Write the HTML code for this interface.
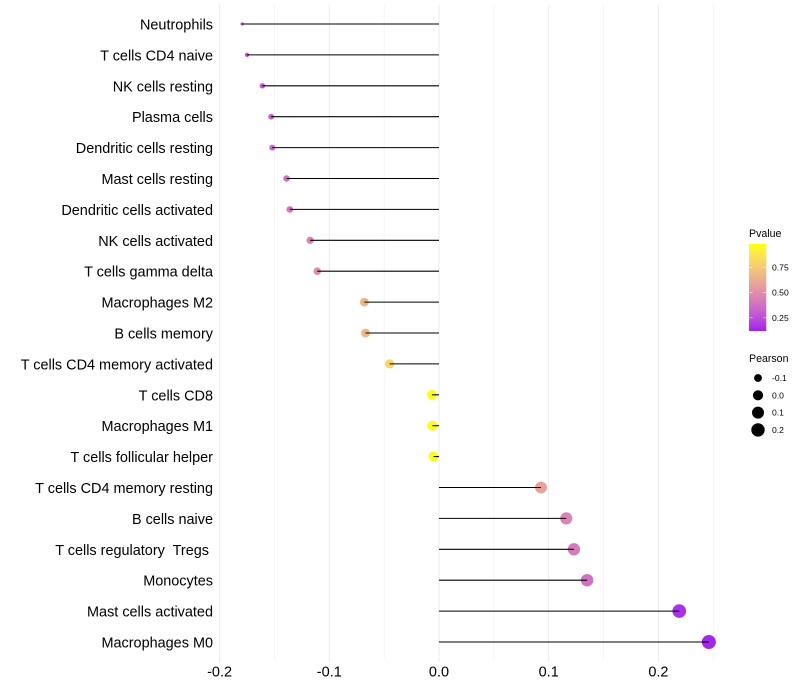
<!DOCTYPE html>
<html>
<head>
<meta charset="utf-8">
<style>
html,body{margin:0;padding:0;background:#fff;}
svg{display:block;font-family:"Liberation Sans",sans-serif;}
</style>
</head>
<body>
<svg id="chart" width="800" height="700" viewBox="0 0 800 700" xmlns="http://www.w3.org/2000/svg">
<rect x="0" y="0" width="800" height="700" fill="#ffffff"/>
<defs><linearGradient id="pgrad" x1="0" y1="1" x2="0" y2="0"></linearGradient></defs>
<g id="grid"></g>
<g id="stems"></g>
<g id="points"></g>
<g id="ylabels"></g>
<g id="xlabels"></g>
<g id="color-legend">
<text x="749" y="237" font-size="10.6" fill="#000">Pvalue</text>
<rect x="749" y="244" width="17.3" height="87" fill="url(#pgrad)"/>
</g>
<g id="size-legend">
<text x="749" y="362" font-size="10.6" fill="#000">Pearson</text>
</g>
</svg>
<script>
const categories = ["Neutrophils","T cells CD4 naive","NK cells resting","Plasma cells","Dendritic cells resting","Mast cells resting","Dendritic cells activated","NK cells activated","T cells gamma delta","Macrophages M2","B cells memory","T cells CD4 memory activated","T cells CD8","Macrophages M1","T cells follicular helper","T cells CD4 memory resting","B cells naive","T cells regulatory  Tregs ","Monocytes","Mast cells activated","Macrophages M0"];
const pearson = [-0.1795,-0.175,-0.161,-0.153,-0.152,-0.139,-0.136,-0.1175,-0.111,-0.068,-0.067,-0.045,-0.0065,-0.006,-0.005,0.093,0.116,0.123,0.135,0.219,0.246];
const pvalues = [0.24,0.26,0.29,0.33,0.33,0.38,0.40,0.45,0.49,0.66,0.67,0.80,0.97,0.97,0.97,0.58,0.45,0.42,0.38,0.16,0.13];
const xTicks = [-0.2,-0.1,0.0,0.1,0.2];
const xMinorTicks = [-0.15,-0.05,0.05,0.15,0.25];
const colorTicks = [0.25,0.50,0.75];
const sizeTicks = [-0.1,0.0,0.1,0.2];

const NS = "http://www.w3.org/2000/svg";
function x(v){ return 439 + v * 1097; }
function y(i){ return 24 + i * 30.9; }
function pY(p){ return 331 - (p - 0.12) / (0.98 - 0.12) * 87; }
function sizeR(v){
  const minV = Math.min(...pearson), maxV = Math.max(...pearson);
  const t = Math.max(0, (v - minV) / (maxV - minV));
  return 1.6 + 5.4 * Math.sqrt(t);
}
function toLab(c){
  const f = c.map(u => { u /= 255; return u > 0.04045 ? Math.pow((u + 0.055) / 1.055, 2.4) : u / 12.92; });
  const X = (0.4124*f[0] + 0.3576*f[1] + 0.1805*f[2]) / 0.95047;
  const Y = 0.2126*f[0] + 0.7152*f[1] + 0.0722*f[2];
  const Z = (0.0193*f[0] + 0.1192*f[1] + 0.9505*f[2]) / 1.08883;
  const g = t => t > 0.008856 ? Math.cbrt(t) : 7.787*t + 16/116;
  return [116*g(Y) - 16, 500*(g(X) - g(Y)), 200*(g(Y) - g(Z))];
}
function fromLab(l){
  const fy = (l[0] + 16) / 116, fx = fy + l[1] / 500, fz = fy - l[2] / 200;
  const h = t => t*t*t > 0.008856 ? t*t*t : (t - 16/116) / 7.787;
  const X = h(fx)*0.95047, Y = h(fy), Z = h(fz)*1.08883;
  const r = 3.2406*X - 1.5372*Y - 0.4986*Z;
  const gg = -0.9689*X + 1.8758*Y + 0.0415*Z;
  const b = 0.0557*X - 0.2040*Y + 1.0570*Z;
  const e = u => { u = Math.max(0, Math.min(1, u)); u = u > 0.0031308 ? 1.055*Math.pow(u, 1/2.4) - 0.055 : 12.92*u; return Math.round(u*255); };
  return "rgb(" + e(r) + "," + e(gg) + "," + e(b) + ")";
}
const labLow = toLab([160,32,240]), labHigh = toLab([255,255,0]);
function color(p){
  const t = Math.max(0, Math.min(1, (p - 0.12) / (0.98 - 0.12)));
  return fromLab(labLow.map((a, k) => a + (labHigh[k] - a) * t));
}
function make(tag, attrs, parent, text){
  const el = document.createElementNS(NS, tag);
  for (const k in attrs) el.setAttribute(k, attrs[k]);
  if (text !== undefined) { el.textContent = text; }
  parent.appendChild(el);
  return el;
}
const gridG = document.getElementById("grid");
xMinorTicks.forEach(t => {
  const el = make("line", {x1:x(t), x2:x(t), y1:5, y2:660, stroke:"#f2f2f2", "stroke-width":0.8}, gridG);
  
  
});
xTicks.forEach(t => {
  const el = make("line", {x1:x(t), x2:x(t), y1:5, y2:662, stroke:"#ebebeb", "stroke-width":1}, gridG);
  
  
});
const pointsG = document.getElementById("points");
const stemsG = document.getElementById("stems");
pearson.forEach((v, i) => {
  const c = make("circle", {cx:x(v), cy:y(i), r:sizeR(v), fill:color(pvalues[i])}, stemsG);
  
  
});
pearson.forEach((v, i) => {
  const l = make("line", {x1:x(0), x2:x(v), y1:y(i), y2:y(i), stroke:"#000", "stroke-width":1.07}, pointsG);
  
  
});
const yG = document.getElementById("ylabels");
categories.forEach((name, i) => {
  const t = make("text", {x:213, y:y(i) + 5.5, "text-anchor":"end", "font-size":14.45, fill:"#000", style:"white-space:pre"}, yG, name);
  
  
});
const xG = document.getElementById("xlabels");
xTicks.forEach(v => {
  const t = make("text", {x:x(v), y:676.5, "text-anchor":"middle", "font-size":14.5, fill:"#000"}, xG, v.toFixed(1));
  
  
});
const grad = document.getElementById("pgrad");
for (let s = 0; s <= 20; s++) {
  const p = 0.12 + (0.98 - 0.12) * s / 20;
  make("stop", {offset:(s * 5) + "%", "stop-color":color(p)}, grad);
}
const cl = document.getElementById("color-legend");
colorTicks.forEach(p => {
  const a = make("line", {x1:749, x2:752.5, y1:pY(p), y2:pY(p), stroke:"#fff", "stroke-width":0.6, "stroke-opacity":0.8}, cl);
  
  
  const b = make("line", {x1:762.8, x2:766.3, y1:pY(p), y2:pY(p), stroke:"#fff", "stroke-width":0.6, "stroke-opacity":0.8}, cl);
  
  
  const t = make("text", {x:772, y:pY(p) + 3, "font-size":8.6, fill:"#000"}, cl, p.toFixed(2));
  
  
});
const sl = document.getElementById("size-legend");
sizeTicks.forEach((v, i) => {
  const cy = 378 + i * 17.3;
  const c = make("circle", {cx:758, cy:cy, r:sizeR(v), fill:"#000"}, sl);
  
  
  const t = make("text", {x:772, y:cy + 3, "font-size":8.6, fill:"#000"}, sl, v.toFixed(1));
  
  
});
</script>
</body>
</html>
